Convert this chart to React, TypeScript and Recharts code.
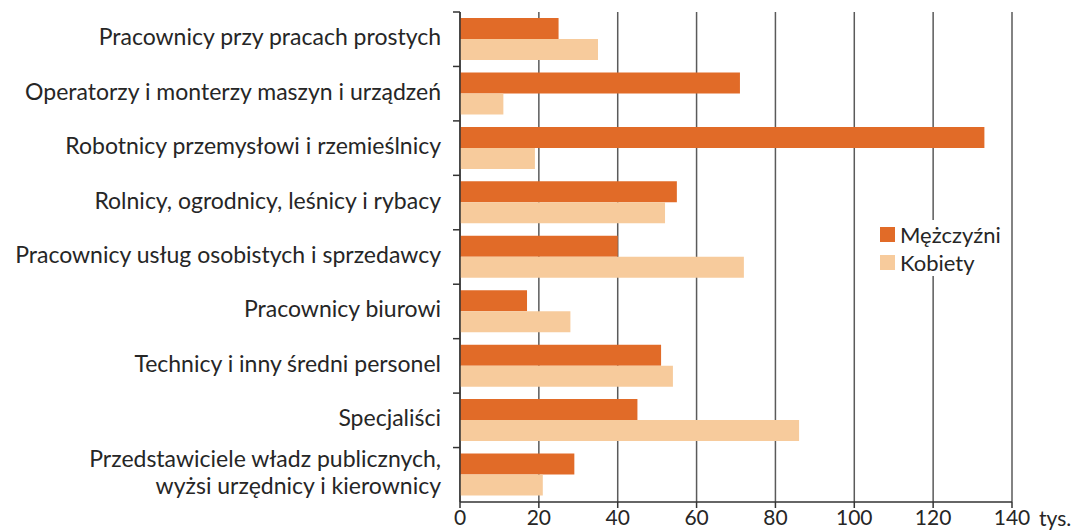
import { BarChart, Bar, XAxis, YAxis, CartesianGrid } from 'recharts'

const categories = [
    'Pracownicy przy pracach prostych',
    'Operatorzy i monterzy maszyn i urządzeń',
    'Robotnicy przemysłowi i rzemieślnicy',
    'Rolnicy, ogrodnicy, leśnicy i rybacy',
    'Pracownicy usług osobistych i sprzedawcy',
    'Pracownicy biurowi',
    'Technicy i inny średni personel',
    'Specjaliści',
    'Przedstawiciele władz publicznych,\nwyżsi urzędnicy i kierownicy',
]
const men = [25, 71, 133, 55, 40, 17, 51, 45, 29]
const women = [35, 11, 19, 52, 72, 28, 54, 86, 21]
const xTicks = [0, 20, 40, 60, 80, 100, 120, 140]

const data = categories.map((name, i) => ({ name, men: men[i], women: women[i] }))

const TEXT = '#262626'
const FONT = 'Lato, "Open Sans", sans-serif'
const MEN_COLOR = '#E16B28'
const WOMEN_COLOR = '#F7CB9C'
const BAND = 490 / categories.length

function CategoryTick(props: any) {
    const { x, y, payload } = props
    const lines = String(payload.value).split('\n')
    const lh = 27
    const y0 = y - 2 - ((lines.length - 1) * lh) / 2
    return (
        <g>
            <line x1={x + 12} x2={x + 19} y1={y - BAND / 2} y2={y - BAND / 2} stroke="#333" strokeWidth={1.5} />
            {lines.map((l, i) => (
                <text key={i} x={x} y={y0 + i * lh} dy="0.35em" textAnchor="end" fill={TEXT} fontSize={23} fontFamily={FONT}>
                    {l}
                </text>
            ))}
        </g>
    )
}

function LegendBox() {
    const items = [
        { label: 'Mężczyźni', color: MEN_COLOR },
        { label: 'Kobiety', color: WOMEN_COLOR },
    ]
    return (
        <div style={{ position: 'absolute', left: 872, top: 220, background: '#fff', padding: '0 6px 0 8px', fontFamily: FONT }}>
            {items.map(it => (
                <div key={it.label} style={{ display: 'flex', alignItems: 'center', gap: 5, height: 28 }}>
                    <div style={{ width: 15, height: 15, background: it.color }}></div>
                    <span style={{ color: TEXT, fontSize: 22 }}>{it.label}</span>
                </div>
            ))}
        </div>
    )
}

export default function App() {
    return (
        <div style={{ position: 'absolute', left: 0, top: 0, width: 1084, height: 532, background: '#fff' }}>
            <BarChart
                width={1084}
                height={532}
                data={data}
                layout="vertical"
                margin={{ top: 12, right: 72, bottom: 0, left: 0 }}
                barCategoryGap="11%"
                barGap={0}
            >
                <CartesianGrid horizontal={false} stroke="#5a5a5a" strokeWidth={1.5} />
                <XAxis
                    type="number"
                    domain={[0, 140]}
                    ticks={xTicks}
                    interval={0}
                    height={30}
                    axisLine={{ stroke: '#333', strokeWidth: 1.5 }}
                    tickLine={{ stroke: '#333', strokeWidth: 1.5 }}
                    tickSize={6}
                    tick={{ fill: TEXT, fontSize: 21, fontFamily: FONT }}
                    label={{ value: 'tys.', position: 'right', offset: 27, fill: TEXT, fontSize: 21, fontFamily: FONT, dy: 2 }}
                />
                <YAxis
                    type="category"
                    dataKey="name"
                    width={460}
                    interval={0}
                    axisLine={{ stroke: '#333', strokeWidth: 1.5 }}
                    tickLine={false}
                    tickMargin={13}
                    tick={<CategoryTick />}
                />
                <Bar dataKey="men" name="Mężczyźni" fill={MEN_COLOR} isAnimationActive={false} />
                <Bar dataKey="women" name="Kobiety" fill={WOMEN_COLOR} isAnimationActive={false} />
            </BarChart>
            <LegendBox />
        </div>
    )
}
